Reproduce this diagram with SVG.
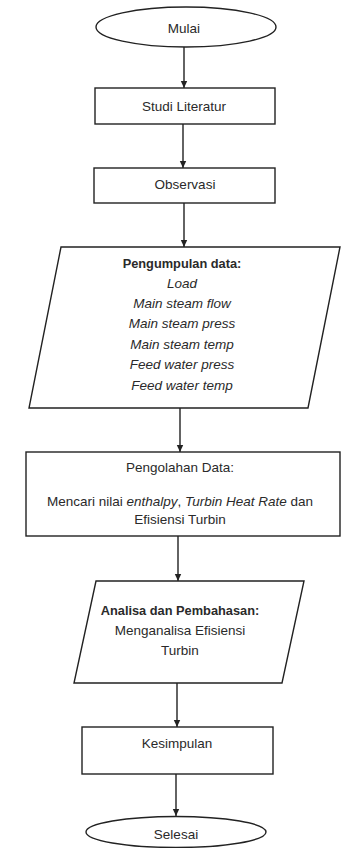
<svg xmlns="http://www.w3.org/2000/svg" width="346" height="848" viewBox="0 0 346 848">
<defs>
<marker id="ah" markerWidth="8" markerHeight="8" refX="7" refY="4" orient="auto" markerUnits="userSpaceOnUse">
<path d="M0,0.8 L7,4 L0,7.2 z" fill="#222"/>
</marker>
<style>
.s{fill:#fff;stroke:#222;stroke-width:1.4}
.c{stroke:#222;stroke-width:1.4;fill:none;marker-end:url(#ah)}
text{font-family:"Liberation Sans",Arial,sans-serif;font-size:13.5px;fill:#2a2a2a;text-anchor:middle;dominant-baseline:central}
.b{font-weight:bold;font-size:12.8px}
.i{font-style:italic}
</style>
</defs>
<rect width="346" height="848" fill="#fff"/>
<g id="connectors">
<path class="c" d="M184,47 L184,88"/>
<path class="c" d="M183,124 L183,168"/>
<path class="c" d="M184,203 L184,247"/>
<path class="c" d="M180,408 L180,452"/>
<path class="c" d="M178,536 L178,581"/>
<path class="c" d="M177,683 L177,727"/>
<path class="c" d="M176,774 L176,816"/>
</g>
<g id="mulai">
<ellipse class="s" cx="186" cy="27" rx="90" ry="20"/>
<text x="184" y="28">Mulai</text>
</g>
<g id="studi">
<rect class="s" x="95" y="88" width="180" height="36"/>
<text x="184" y="106">Studi Literatur</text>
</g>
<g id="observasi">
<rect class="s" x="94" y="168" width="181" height="35"/>
<text x="185" y="184">Observasi</text>
</g>
<g id="data">
<polygon class="s" points="61,247 340,247 308,408 29,408"/>
<text class="b" x="182" y="263">Pengumpulan data:</text>
<text class="i" x="182" y="283">Load</text>
<text class="i" x="182" y="303">Main steam flow</text>
<text class="i" x="182" y="323">Main steam press</text>
<text class="i" x="182" y="344">Main steam temp</text>
<text class="i" x="182" y="364">Feed water press</text>
<text class="i" x="182" y="385">Feed water temp</text>
</g>
<g id="pengolahan">
<rect class="s" x="26" y="452" width="314" height="84"/>
<text x="180" y="467">Pengolahan Data:</text>
<text x="180" y="501">Mencari nilai <tspan class="i">enthalpy</tspan>, <tspan class="i">Turbin Heat Rate</tspan> dan</text>
<text x="180" y="519">Efisiensi Turbin</text>
</g>
<g id="analisa">
<polygon class="s" points="96,581 304,581 282,683 74,683"/>
<text class="b" x="180" y="610">Analisa dan Pembahasan:</text>
<text x="180" y="630">Menganalisa Efisiensi</text>
<text x="180" y="650">Turbin</text>
</g>
<g id="kesimpulan">
<rect class="s" x="82" y="727" width="191" height="47"/>
<text x="177" y="743">Kesimpulan</text>
</g>
<g id="selesai">
<ellipse class="s" cx="176" cy="832" rx="90" ry="15.5"/>
<text x="176" y="834">Selesai</text>
</g>
</svg>
